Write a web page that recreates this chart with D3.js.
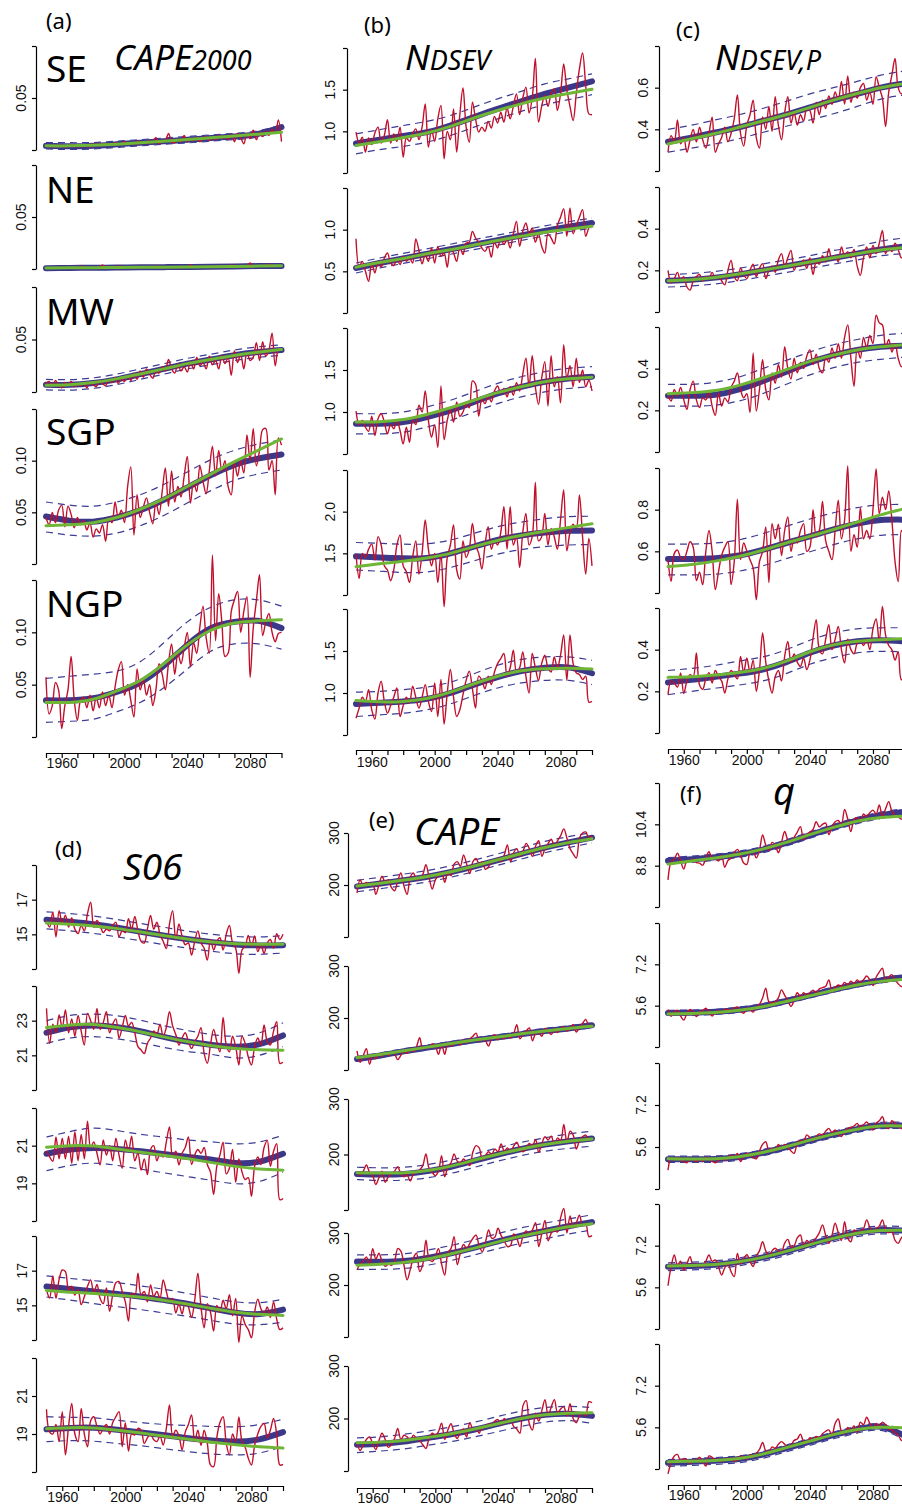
<!DOCTYPE html>
<html><head><meta charset="utf-8">
<script src="https://cdn.jsdelivr.net/npm/d3@7"></script>
<style>body{margin:0;background:#fff}svg{display:block}</style>
</head><body>
<svg id="chart" width="902" height="1505"></svg>
<script>
// ---------- categories ----------
const YEARS = d3.range(1950, 2101, 2);     // annual series sampled every 2 years
const KNOTS = d3.range(1950, 2101, 15);    // smooth fits / bands
const REGIONS = ["SE", "NE", "MW", "SGP", "NGP"];
const XTICKS = d3.range(1950, 2101, 10);
const XLABELS = [1960, 2000, 2040, 2080];

// ---------- (a) CAPE2000 ----------
const cape2000SE_red = [0.005,0.003,0.004,0.003,0.005,0.004,0.003,0.004,0.005,0.003,0.004,
0.003,0.005,0.004,0.003,0.005,0.006,0.004,0.006,0.005,0.006,
0.005,0.007,0.005,0.006,0.008,0.006,0.007,0.005,0.009,0.006,
0.008,0.006,0.009,0.007,0.012,0.006,0.009,0.009,0.016,0.008,
0.007,0.01,0.008,0.014,0.008,0.011,0.009,0.012,0.008,0.011,
0.013,0.009,0.012,0.01,0.014,0.011,0.013,0.01,0.015,0.008,
0.016,0.012,0.006,0.016,0.011,0.019,0.01,0.017,0.013,0.018,
0.014,0.02,0.016,0.029,0.008];
const cape2000SE_blue = [0.004,0.0035,0.004,0.0055,0.007,0.0085,0.0098,0.0115,0.013,0.0155,0.022];
const cape2000SE_green = [0.004,0.004,0.0045,0.0055,0.007,0.0085,0.010,0.0118,0.0135,0.0152,0.017];
const cape2000SE_up = [0.007,0.007,0.0072,0.0085,0.010,0.0115,0.013,0.0145,0.016,0.0185,0.024];
const cape2000SE_lo = [0.001,0.0005,0.001,0.0025,0.004,0.0055,0.0068,0.0085,0.010,0.0125,0.019];

const cape2000NE_red = [0.001,0.0008,0.0012,0.0009,0.0011,0.001,0.0013,0.0009,0.0012,0.001,0.0011,
0.0028,0.0012,0.001,0.0013,0.0011,0.0014,0.0012,0.0038,0.0013,0.0015,
0.0013,0.0014,0.003,0.0015,0.0013,0.0016,0.0014,0.0017,0.0015,0.0016,
0.0018,0.0016,0.0019,0.0017,0.003,0.0018,0.0017,0.002,0.0018,0.0021,
0.0019,0.002,0.0022,0.0019,0.0021,0.0038,0.002,0.0022,0.0021,0.0023,
0.0022,0.0024,0.0021,0.0025,0.0023,0.0022,0.0026,0.0024,0.0038,0.0025,
0.0026,0.0028,0.0025,0.003,0.0058,0.0027,0.003,0.0028,0.0031,0.0029,
0.0045,0.003,0.0032,0.0029,0.0031];
const cape2000NE_blue = [0.0008,0.001,0.0012,0.0014,0.0016,0.0018,0.002,0.0022,0.0025,0.0028,0.003];
const cape2000NE_green = [0.0009,0.0011,0.0012,0.0014,0.0016,0.0018,0.002,0.0022,0.0025,0.0028,0.0031];
const cape2000NE_up = [0.0016,0.0018,0.002,0.0022,0.0024,0.0026,0.0028,0.003,0.0033,0.0036,0.0038];
const cape2000NE_lo = [0,0.0002,0.0004,0.0006,0.0008,0.001,0.0012,0.0014,0.0017,0.002,0.0022];

const cape2000MW_red = [0.008,0.01,0.005,0.011,0.007,0.004,0.009,0.006,0.01,0.005,0.008,
0.006,0.009,0.004,0.01,0.007,0.005,0.011,0.008,0.006,0.012,
0.009,0.014,0.008,0.013,0.01,0.016,0.011,0.018,0.012,0.02,
0.014,0.022,0.017,0.013,0.021,0.018,0.024,0.02,0.031,0.022,
0.018,0.027,0.02,0.024,0.019,0.029,0.022,0.033,0.025,0.028,
0.022,0.034,0.026,0.03,0.022,0.035,0.027,0.033,0.016,0.039,
0.028,0.036,0.022,0.038,0.03,0.033,0.047,0.03,0.048,0.034,
0.04,0.056,0.025,0.04,0.04];
const cape2000MW_blue = [0.007,0.0068,0.0085,0.012,0.017,0.022,0.027,0.031,0.035,0.038,0.040];
const cape2000MW_green = [0.0065,0.007,0.009,0.0125,0.0172,0.022,0.027,0.031,0.0348,0.0378,0.0405];
const cape2000MW_up = [0.012,0.0118,0.0135,0.017,0.022,0.027,0.032,0.036,0.040,0.043,0.045];
const cape2000MW_lo = [0.002,0.0018,0.0035,0.007,0.012,0.017,0.022,0.026,0.030,0.033,0.035];

const cape2000SGP_red = [0.045,0.038,0.05,0.04,0.052,0.057,0.036,0.056,0.048,0.035,0.045,
0.038,0.042,0.033,0.04,0.026,0.034,0.03,0.038,0.022,0.045,
0.04,0.06,0.045,0.052,0.04,0.075,0.094,0.028,0.067,0.045,
0.055,0.064,0.05,0.039,0.06,0.048,0.07,0.093,0.056,0.09,
0.06,0.075,0.065,0.085,0.104,0.059,0.08,0.07,0.095,0.08,
0.068,0.09,0.114,0.085,0.11,0.09,0.1,0.075,0.067,0.099,
0.085,0.1,0.088,0.125,0.1,0.131,0.095,0.11,0.13,0.131,
0.091,0.1,0.067,0.122,0.115];
const cape2000SGP_blue = [0.046,0.042,0.041,0.045,0.052,0.062,0.074,0.086,0.096,0.102,0.106];
const cape2000SGP_green = [0.037,0.038,0.040,0.045,0.053,0.063,0.075,0.087,0.099,0.110,0.121];
const cape2000SGP_up = [0.060,0.057,0.056,0.060,0.067,0.077,0.089,0.101,0.110,0.116,0.120];
const cape2000SGP_lo = [0.031,0.028,0.027,0.030,0.037,0.047,0.059,0.071,0.081,0.087,0.091];

const cape2000NGP_red = [0.057,0.022,0.03,0.052,0.045,0.008,0.03,0.045,0.077,0.035,0.016,
0.035,0.038,0.028,0.04,0.025,0.038,0.028,0.043,0.03,0.04,
0.028,0.048,0.064,0.072,0.04,0.05,0.035,0.019,0.065,0.045,
0.055,0.04,0.05,0.03,0.045,0.07,0.06,0.045,0.07,0.089,
0.06,0.08,0.07,0.085,0.1,0.067,0.09,0.08,0.105,0.125,
0.095,0.08,0.174,0.092,0.137,0.11,0.077,0.08,0.12,0.131,
0.139,0.1,0.12,0.134,0.057,0.104,0.13,0.155,0.097,0.11,
0.118,0.1,0.091,0.099,0.1];
const cape2000NGP_blue = [0.035,0.035,0.037,0.043,0.052,0.068,0.088,0.104,0.110,0.111,0.104];
const cape2000NGP_green = [0.033,0.033,0.036,0.044,0.054,0.070,0.088,0.102,0.109,0.111,0.112];
const cape2000NGP_up = [0.056,0.058,0.060,0.063,0.072,0.090,0.110,0.124,0.131,0.131,0.125];
const cape2000NGP_lo = [0.014,0.015,0.017,0.024,0.033,0.047,0.065,0.082,0.089,0.089,0.084];

// ---------- (b) N_DSEV ----------
const ndsevSE_red = [0.99,0.86,0.93,0.75,0.92,0.84,0.98,1.05,0.86,0.95,1.14,
0.86,0.97,0.88,1.05,0.69,0.92,0.88,0.97,1.03,0.9,
1.05,1.33,0.81,1.02,0.88,1.15,1.31,0.67,1.0,0.9,
1.27,0.75,1.2,1.52,1.05,0.87,1.35,1.15,0.99,1.05,
1.0,1.12,1.04,1.18,1.1,1.23,1.11,1.28,1.15,1.3,
1.45,1.2,1.4,1.53,1.22,1.4,1.875,1.11,1.3,1.43,
1.3,1.45,1.51,1.25,1.45,1.81,1.5,1.3,1.13,1.45,
1.75,1.94,1.55,1.21,1.2];
const ndsevSE_blue = [0.855,0.90,0.945,0.99,1.07,1.17,1.27,1.36,1.45,1.525,1.60];
const ndsevSE_green = [0.83,0.875,0.925,0.98,1.06,1.16,1.25,1.33,1.40,1.455,1.505];
const ndsevSE_up = [0.97,1.02,1.07,1.12,1.19,1.29,1.39,1.48,1.57,1.63,1.69];
const ndsevSE_lo = [0.73,0.78,0.82,0.87,0.95,1.05,1.15,1.24,1.32,1.38,1.44];

const ndsevNE_red = [0.89,0.55,0.62,0.5,0.38,0.6,0.48,0.62,0.55,0.66,0.72,
0.6,0.57,0.65,0.58,0.68,0.62,0.66,0.6,0.89,0.75,
0.59,0.7,0.62,0.78,0.6,0.8,0.68,0.72,0.55,0.78,
0.72,0.62,0.8,0.7,0.84,0.85,0.98,0.9,0.85,0.78,
0.74,0.8,0.67,0.85,0.78,0.9,0.82,0.88,0.78,0.95,
1.1,0.8,0.98,1.08,0.95,1.02,0.85,0.95,0.8,0.72,
0.95,0.9,0.83,1.05,1.15,1.25,0.92,1.26,0.95,1.05,
1.15,1.24,0.92,1.02,1.06];
const ndsevNE_blue = [0.54,0.60,0.655,0.71,0.765,0.82,0.875,0.93,0.985,1.035,1.08];
const ndsevNE_green = [0.55,0.605,0.655,0.71,0.76,0.815,0.87,0.92,0.97,1.005,1.04];
const ndsevNE_up = [0.60,0.66,0.715,0.77,0.825,0.88,0.935,0.99,1.045,1.095,1.14];
const ndsevNE_lo = [0.48,0.54,0.595,0.65,0.705,0.76,0.815,0.87,0.925,0.975,1.02];

const ndsevMW_red = [1.01,0.85,0.9,0.82,0.77,0.95,0.72,0.92,0.98,0.88,0.74,
0.85,0.8,0.9,0.78,0.62,0.82,0.64,0.9,0.85,1.08,
1.0,1.25,0.9,0.7,0.85,0.58,1.31,0.67,0.9,1.03,
0.88,1.12,0.95,1.0,1.1,1.05,1.37,1.33,0.95,1.15,
1.1,1.2,1.12,1.25,1.31,1.22,1.28,1.18,1.3,1.2,
1.35,1.25,1.45,1.64,1.3,1.67,1.3,1.09,1.4,1.6,
1.07,1.67,1.3,1.42,1.11,1.8,1.4,1.55,1.3,1.64,
1.35,1.5,1.3,1.38,1.25];
const ndsevMW_blue = [0.86,0.86,0.88,0.94,1.02,1.12,1.22,1.30,1.36,1.40,1.42];
const ndsevMW_green = [0.88,0.885,0.91,0.97,1.05,1.14,1.23,1.30,1.36,1.395,1.415];
const ndsevMW_up = [0.98,0.98,1.0,1.06,1.14,1.24,1.34,1.42,1.48,1.52,1.54];
const ndsevMW_lo = [0.74,0.74,0.76,0.82,0.90,1.0,1.10,1.18,1.24,1.28,1.30];

const ndsevSGP_red = [1.49,1.2,1.5,1.45,1.55,1.61,1.42,1.7,1.6,1.35,1.3,
1.17,1.3,1.6,1.72,1.35,1.28,1.15,1.45,1.65,1.25,
1.5,1.9,1.55,1.35,1.5,1.15,1.5,0.86,1.45,1.6,
1.84,1.3,1.19,1.65,1.45,1.55,1.86,1.6,1.5,1.31,
1.6,1.82,1.55,1.65,1.6,1.75,2.06,1.55,2.06,1.6,
1.7,1.33,1.75,1.98,1.6,1.7,2.35,1.65,1.7,1.98,
1.6,1.8,1.7,1.55,1.9,2.26,1.53,1.75,1.85,1.8,
2.2,1.7,1.25,1.68,1.35];
const ndsevSGP_blue = [1.465,1.45,1.44,1.445,1.50,1.58,1.66,1.715,1.75,1.77,1.775];
const ndsevSGP_green = [1.34,1.375,1.405,1.445,1.50,1.58,1.655,1.715,1.765,1.81,1.855];
const ndsevSGP_up = [1.63,1.62,1.61,1.615,1.66,1.74,1.82,1.875,1.915,1.94,1.945];
const ndsevSGP_lo = [1.30,1.285,1.27,1.275,1.33,1.41,1.49,1.545,1.58,1.60,1.605];

const ndsevNGP_red = [0.70,0.82,0.95,0.9,1.04,0.8,0.69,1.0,1.14,0.9,0.76,
0.85,0.95,1.06,0.72,0.85,0.95,0.88,1.08,0.95,0.82,
0.95,1.1,0.9,0.78,1.12,0.72,1.16,0.63,1.0,1.28,
0.95,0.72,0.8,0.98,1.15,1.26,1.05,0.82,1.2,1.15,
1.05,1.2,1.1,1.25,1.35,1.41,1.47,1.2,1.3,1.51,
1.25,1.3,1.49,1.2,1.0,1.47,1.3,1.15,1.35,1.45,
1.3,1.25,1.43,1.3,1.45,1.69,1.15,1.69,1.35,1.24,
1.22,1.16,1.2,0.89,0.9];
const ndsevNGP_blue = [0.87,0.885,0.90,0.93,1.0,1.10,1.19,1.26,1.30,1.305,1.235];
const ndsevNGP_green = [0.91,0.895,0.90,0.935,1.01,1.11,1.20,1.265,1.29,1.295,1.285];
const ndsevNGP_up = [1.01,1.02,1.04,1.07,1.13,1.23,1.33,1.40,1.43,1.43,1.39];
const ndsevNGP_lo = [0.72,0.74,0.76,0.80,0.87,0.97,1.06,1.12,1.15,1.15,1.10];

// ---------- (c) N_DSEV,P ----------
const ndsevpSE_red = [0.29,0.37,0.34,0.445,0.33,0.36,0.29,0.35,0.4,0.34,0.41,
0.35,0.31,0.38,0.458,0.29,0.33,0.36,0.41,0.34,0.38,
0.45,0.565,0.38,0.32,0.42,0.47,0.54,0.36,0.31,0.46,
0.4,0.51,0.39,0.557,0.42,0.35,0.48,0.557,0.43,0.48,
0.42,0.47,0.44,0.5,0.49,0.43,0.53,0.47,0.54,0.5,
0.56,0.52,0.58,0.54,0.63,0.52,0.656,0.53,0.58,0.55,
0.6,0.62,0.54,0.58,0.52,0.653,0.6,0.55,0.413,0.58,
0.66,0.74,0.6,0.57,0.6];
const ndsevpSE_blue = [0.34,0.36,0.385,0.41,0.44,0.47,0.505,0.54,0.57,0.60,0.62];
const ndsevpSE_green = [0.33,0.355,0.38,0.41,0.44,0.47,0.505,0.54,0.572,0.60,0.62];
const ndsevpSE_up = [0.40,0.42,0.445,0.47,0.50,0.535,0.57,0.60,0.63,0.66,0.68];
const ndsevpSE_lo = [0.29,0.31,0.33,0.355,0.385,0.415,0.445,0.475,0.51,0.545,0.565];

const ndsevpNE_red = [0.2,0.14,0.16,0.19,0.15,0.17,0.12,0.105,0.15,0.17,0.18,
0.15,0.17,0.16,0.19,0.16,0.17,0.15,0.13,0.2,0.248,
0.17,0.15,0.21,0.18,0.16,0.2,0.23,0.17,0.21,0.232,
0.16,0.2,0.22,0.19,0.25,0.28,0.22,0.26,0.296,0.2,
0.23,0.22,0.25,0.21,0.26,0.18,0.24,0.23,0.27,0.24,
0.304,0.25,0.27,0.24,0.312,0.27,0.29,0.26,0.3,0.22,
0.176,0.26,0.312,0.26,0.32,0.28,0.33,0.392,0.28,0.31,
0.29,0.33,0.3,0.26,0.29];
const ndsevpNE_blue = [0.15,0.155,0.165,0.18,0.20,0.22,0.24,0.26,0.28,0.30,0.315];
const ndsevpNE_green = [0.15,0.155,0.166,0.182,0.20,0.22,0.24,0.26,0.28,0.298,0.31];
const ndsevpNE_up = [0.18,0.185,0.195,0.21,0.23,0.25,0.27,0.295,0.315,0.34,0.355];
const ndsevpNE_lo = [0.12,0.125,0.135,0.15,0.17,0.19,0.21,0.23,0.25,0.27,0.28];

const ndsevpMW_red = [0.27,0.245,0.3,0.27,0.31,0.25,0.205,0.3,0.34,0.25,0.213,
0.26,0.25,0.29,0.22,0.176,0.284,0.22,0.26,0.24,0.31,
0.34,0.38,0.3,0.26,0.28,0.19,0.476,0.197,0.3,0.443,
0.3,0.25,0.38,0.33,0.42,0.36,0.506,0.4,0.35,0.45,
0.38,0.43,0.4,0.46,0.49,0.42,0.47,0.4,0.38,0.46,
0.43,0.5,0.45,0.52,0.45,0.55,0.61,0.45,0.316,0.5,
0.45,0.55,0.5,0.56,0.52,0.657,0.62,0.61,0.5,0.54,
0.48,0.52,0.45,0.41,0.42];
const ndsevpMW_blue = [0.27,0.27,0.275,0.30,0.34,0.385,0.43,0.465,0.49,0.505,0.51];
const ndsevpMW_green = [0.28,0.285,0.295,0.32,0.355,0.395,0.435,0.465,0.49,0.505,0.515];
const ndsevpMW_up = [0.325,0.325,0.335,0.36,0.40,0.44,0.48,0.515,0.54,0.56,0.57];
const ndsevpMW_lo = [0.22,0.22,0.225,0.245,0.28,0.325,0.37,0.405,0.43,0.445,0.455];

const ndsevpSGP_red = [0.56,0.456,0.59,0.606,0.57,0.56,0.6,0.646,0.62,0.46,0.5,
0.44,0.6,0.7,0.6,0.416,0.5,0.58,0.62,0.646,0.44,
0.55,0.85,0.56,0.64,0.6,0.56,0.52,0.368,0.55,0.6,
0.717,0.45,0.733,0.66,0.73,0.58,0.7,0.765,0.6,0.66,
0.64,0.7,0.733,0.6,0.62,0.8,0.67,0.7,0.84,0.65,
0.6,0.56,0.7,0.845,0.66,0.75,1.01,0.6,0.68,0.62,
0.81,0.66,0.7,0.66,0.8,0.995,0.78,0.86,0.8,0.89,
0.75,0.55,0.455,0.7,0.65];
const ndsevpSGP_blue = [0.563,0.563,0.567,0.58,0.607,0.64,0.672,0.705,0.733,0.75,0.752];
const ndsevpSGP_green = [0.527,0.537,0.553,0.575,0.605,0.64,0.672,0.705,0.74,0.775,0.805];
const ndsevpSGP_up = [0.635,0.635,0.64,0.655,0.685,0.72,0.755,0.785,0.81,0.823,0.825];
const ndsevpSGP_lo = [0.487,0.487,0.49,0.505,0.53,0.565,0.598,0.632,0.66,0.677,0.68];

const ndsevpNGP_red = [0.184,0.25,0.24,0.22,0.288,0.19,0.25,0.28,0.27,0.384,0.23,
0.21,0.26,0.29,0.24,0.3,0.27,0.25,0.192,0.26,0.3,
0.28,0.26,0.368,0.29,0.36,0.29,0.35,0.2,0.3,0.48,
0.34,0.25,0.192,0.27,0.3,0.25,0.368,0.44,0.34,0.38,
0.34,0.32,0.36,0.304,0.35,0.456,0.544,0.4,0.38,0.45,
0.52,0.4,0.45,0.512,0.4,0.336,0.45,0.4,0.38,0.43,
0.44,0.42,0.45,0.4,0.5,0.547,0.44,0.608,0.47,0.42,
0.4,0.35,0.39,0.256,0.26];
const ndsevpNGP_blue = [0.243,0.255,0.27,0.285,0.305,0.34,0.385,0.42,0.44,0.445,0.44];
const ndsevpNGP_green = [0.267,0.27,0.278,0.29,0.31,0.345,0.39,0.423,0.44,0.448,0.453];
const ndsevpNGP_up = [0.30,0.31,0.325,0.345,0.365,0.40,0.445,0.48,0.50,0.505,0.505];
const ndsevpNGP_lo = [0.184,0.20,0.215,0.23,0.25,0.285,0.33,0.362,0.385,0.392,0.39];

// ---------- (d) S06 ----------
const s06SE_red = [15.8,15.42,16.28,14.85,16.37,15.6,16.1,15.42,15.95,15.3,15.04,
15.5,15.2,16.2,16.85,15.4,15.8,15.5,15.1,15.3,15.2,
15.5,15.7,14.85,15.2,15.1,15.9,15.3,16.03,15.2,14.6,
14.5,15.3,16.09,15.3,15.7,15.0,14.6,14.18,15.6,16.37,
14.7,15.6,14.9,14.4,14.5,13.8,14.6,15.2,14.5,14.2,
13.51,14.7,14.1,14.6,14.8,14.1,15.0,15.51,14.5,14.2,
12.75,14.1,14.3,14.94,14.3,14.9,14.0,14.4,13.9,14.5,
14.7,14.2,15.04,14.7,15.0];
const s06SE_blue = [15.84,15.72,15.58,15.38,15.15,14.92,14.72,14.55,14.42,14.36,14.37];
const s06SE_green = [15.65,15.58,15.48,15.33,15.13,14.92,14.72,14.56,14.46,14.43,14.43];
const s06SE_up = [16.3,16.2,16.05,15.85,15.62,15.4,15.18,15.0,14.88,14.85,14.92];
const s06SE_lo = [15.32,15.2,15.05,14.85,14.62,14.4,14.2,14.02,13.88,13.85,13.92];

const s06NE_red = [23.71,21.69,22.8,22.3,23.33,22.6,23.62,22.3,23.1,22.1,23.3,
22.4,21.6,23.42,23.0,22.5,23.71,22.5,22.9,23.52,22.3,
22.8,23.1,22.0,22.6,23.3,22.7,22.9,22.3,21.5,21.31,
21.1,21.7,22.0,22.4,22.2,22.8,22.1,22.6,23.52,22.7,
22.2,21.6,22.0,22.3,21.8,21.4,21.8,22.1,22.6,21.1,
20.54,21.6,22.5,21.8,21.2,23.19,21.6,21.2,22.1,21.5,
20.44,22.1,21.7,20.9,20.44,21.5,22.0,21.6,22.75,21.8,
21.6,22.4,22.94,20.54,20.6];
const s06NE_blue = [22.31,22.62,22.72,22.62,22.38,22.05,21.78,21.6,21.5,21.65,22.15];
const s06NE_green = [22.6,22.75,22.78,22.6,22.35,22.05,21.78,21.55,21.4,21.32,21.3];
const s06NE_up = [23.0,23.3,23.38,23.28,23.02,22.7,22.42,22.2,22.1,22.3,22.88];
const s06NE_lo = [21.69,22.0,22.08,21.95,21.72,21.45,21.22,21.05,20.85,21.0,21.5];

const s06MW_red = [20.72,20.4,20.17,21.46,20.3,21.4,20.3,21.5,20.07,21.74,20.2,
21.6,20.3,22.3,20.9,21.2,20.6,19.98,21.3,20.5,21.0,
20.2,21.4,20.5,19.8,21.3,20.7,21.5,20.2,20.6,19.7,
20.3,19.46,20.8,21.0,20.2,20.6,20.4,21.2,22.0,20.4,
20.7,19.98,20.6,20.9,21.46,20.0,20.5,20.8,20.6,20.9,
20.0,19.6,18.41,19.9,20.5,21.19,19.5,19.8,20.8,19.06,
20.3,19.6,19.2,19.3,18.31,19.9,20.4,20.0,20.9,21.28,
19.9,20.7,21.1,18.13,18.2];
const s06MW_blue = [20.57,20.8,20.88,20.83,20.7,20.55,20.4,20.25,20.08,20.15,20.57];
const s06MW_green = [20.92,21.0,20.98,20.82,20.65,20.48,20.3,20.1,19.9,19.76,19.7];
const s06MW_up = [21.46,21.75,21.93,21.8,21.6,21.45,21.3,21.2,21.1,21.2,21.55];
const s06MW_lo = [19.67,19.95,20.07,19.95,19.75,19.55,19.35,19.15,18.98,19.1,19.6];

const s06SGP_red = [15.9,15.42,16.7,15.4,16.5,17.04,16.94,15.9,16.1,15.6,15.9,
15.04,15.5,16.1,16.47,15.7,16.2,15.4,15.1,16.0,14.66,
15.6,16.3,16.37,15.8,15.2,14.09,15.7,15.5,16.85,15.6,
15.8,15.2,16.18,15.5,15.8,15.4,16.47,15.8,15.2,15.4,
14.56,15.1,14.5,15.2,14.9,14.3,15.3,16.85,14.9,13.7,
15.1,14.6,13.51,15.0,14.6,15.3,14.8,15.61,14.4,15.4,
12.85,14.4,13.9,13.6,13.13,14.6,15.36,14.8,14.5,14.9,
14.3,15.2,14.2,13.6,13.7];
const s06SGP_blue = [16.09,15.95,15.8,15.65,15.5,15.3,15.08,14.82,14.58,14.5,14.75];
const s06SGP_green = [15.86,15.76,15.68,15.58,15.46,15.28,15.06,14.82,14.6,14.48,14.42];
const s06SGP_up = [16.7,16.55,16.42,16.3,16.12,15.92,15.68,15.42,15.2,15.15,15.36];
const s06SGP_lo = [15.48,15.3,15.1,14.92,14.75,14.55,14.35,14.12,13.92,13.88,14.03];

const s06NGP_red = [20.3,19.1,19.0,19.5,18.6,20.18,17.9,19.4,20.61,19.0,18.6,
20.35,19.0,18.33,19.7,19.91,19.4,19.0,19.3,19.5,19.0,
19.6,19.91,20.18,18.33,19.6,18.1,19.0,18.95,19.3,19.2,
18.5,18.8,19.0,18.7,18.6,18.9,18.42,19.3,20.53,18.9,
19.2,18.9,18.16,19.1,19.5,20.0,18.6,19.2,18.4,19.2,
18.5,17.37,17.28,18.8,19.6,19.91,18.5,17.9,19.0,18.6,
19.9,18.6,18.3,17.72,17.37,18.4,19.0,19.4,19.56,18.8,
19.2,19.82,19.0,17.37,17.4];
const s06NGP_blue = [19.25,19.32,19.33,19.22,19.08,18.93,18.78,18.66,18.6,18.72,19.1];
const s06NGP_green = [19.28,19.33,19.32,19.2,19.05,18.88,18.72,18.57,18.44,18.33,18.26];
const s06NGP_up = [19.91,19.88,19.85,19.72,19.6,19.5,19.45,19.4,19.38,19.5,19.78];
const s06NGP_lo = [18.6,18.65,18.62,18.5,18.38,18.22,18.07,17.95,17.9,18.0,18.37];

// ---------- (e) CAPE ----------
const capeSE_red = [185,210,198,205,200,204,182,200,217,205,210,
195,189,208,223,198,182,215,223,210,212,
220,239,215,192,210,218,225,205,225,218,
240,245,236,258,240,222,245,251,240,245,
230,235,248,245,252,245,258,277,245,262,
270,255,265,280,270,255,275,285,255,270,
280,288,275,285,295,308,290,270,260,252,
290,300,302,290,295];
const capeSE_blue = [197,203,209,216,225,236,248,260,272,282,291];
const capeSE_green = [198,203.5,209.5,216.5,225.5,236.5,248.5,260.5,272,281.5,289];
const capeSE_up = [209,215,221,228,237,248,260,272,284,293,301];
const capeSE_lo = [187,193,199,206,215,226,238,250,262,272,281];

const capeNE_red = [137,115,128,141,111,128,122,132,126,133,128,
134,131,120,128,138,132,140,136,145,162,
140,145,142,150,146,130,150,130,152,146,
150,155,148,158,152,160,165,171,155,160,
156,146,162,168,158,165,160,167,162,170,
187,160,168,175,181,156,170,172,165,180,
175,168,178,172,180,183,175,180,187,173,
182,190,197,185,183];
const capeNE_blue = [121,128,136,143,150,157,163,169,175,180,186];
const capeNE_green = [124,130,137,144,151,157.5,163.5,169.5,175,180,184];
const capeNE_up = [126,133,141,148,155,162,168,174,180,185,191];
const capeNE_lo = [117,124,132,139,146,153,159,165,171,176,181];

const capeMW_red = [168,163,170,181,168,162,146,158,170,150,160,
165,170,178,165,160,163,152,165,168,172,
180,201,175,168,162,170,198,160,178,185,
201,188,185,192,186,180,205,216,212,190,
198,205,200,210,205,219,206,212,205,215,
222,210,205,212,220,215,227,204,220,232,
226,233,218,230,225,254,222,242,235,210,
225,232,235,227,228];
const capeMW_blue = [165,164,165,170,178,189,200,210,218,224,229];
const capeMW_green = [167,166.5,167,171,179,190,200.5,210,218,224,228];
const capeMW_up = [177,176,177,182,190,201,212,222,230,237,242];
const capeMW_lo = [155,153,154,158,166,177,188,198,206,211,215];

const capeSGP_red = [229,240,246,254,238,270,250,261,245,236,240,
238,246,270,265,238,210,230,252,261,226,
240,286,250,245,255,270,240,219,262,270,
293,239,262,278,270,280,290,296,275,264,
282,306,290,292,309,295,285,274,276,298,
290,274,295,304,298,306,320,274,300,324,
285,300,305,302,330,347,300,333,310,320,
334,315,318,293,295];
const capeSGP_blue = [245,244.5,246,252,261,272,284,295,304,313,321];
const capeSGP_green = [238,240,243.5,250,260,271,283,294,303.5,312,318];
const capeSGP_up = [258,258,260,267,276,287,299,310,319,327,335];
const capeSGP_lo = [230,230,232,238,247,258,270,280,289,298,306];

const capeNGP_red = [156,139,150,160,165,152,141,158,172,160,145,
150,162,181,160,168,165,158,168,162,158,
150,143,162,172,168,175,191,160,178,190,
172,162,175,180,165,192,180,182,172,185,
182,190,185,195,198,188,200,192,198,185,
180,172,225,234,190,178,210,195,215,236,
205,222,236,210,218,222,205,228,200,192,
205,210,205,232,230];
const capeNGP_blue = [150,152,156,163,170,179,190,200,207,209,205];
const capeNGP_green = [154,155,158,164,171,180,190,200,207,210,211];
const capeNGP_up = [163,165,170,176,184,193,204,214,221,223,221];
const capeNGP_lo = [135,138,142,149,156,165,175,185,193,196,191];

// ---------- (f) q ----------
const qSE_red = [8.25,8.95,9.05,9.28,8.98,8.67,9.0,8.98,9.05,8.92,8.9,
8.82,9.1,9.34,9.05,9.1,8.98,9.2,8.74,9.0,9.1,
9.3,9.43,9.2,8.9,8.85,9.3,9.35,9.1,9.4,9.99,
9.6,9.4,9.7,9.6,9.3,9.7,10.12,9.8,9.7,9.9,
10.1,10.31,9.8,10.0,10.1,10.2,10.5,10.3,10.4,10.45,
10.0,10.3,10.5,10.55,10.4,10.98,10.6,10.12,10.6,10.65,
10.5,10.8,10.7,10.85,10.95,10.8,11.15,10.7,11.0,11.28,
10.9,10.75,10.7,10.6,10.7];
const qSE_blue = [8.99,9.05,9.13,9.24,9.42,9.68,9.98,10.28,10.55,10.75,10.89];
const qSE_green = [8.86,8.98,9.1,9.24,9.44,9.7,10.0,10.28,10.52,10.66,10.72];
const qSE_up = [9.11,9.17,9.25,9.36,9.54,9.8,10.1,10.4,10.67,10.87,11.01];
const qSE_lo = [8.87,8.93,9.01,9.12,9.3,9.56,9.86,10.16,10.43,10.63,10.77];

const qNE_red = [5.45,5.19,5.35,5.42,5.2,5.04,5.3,5.45,5.35,5.18,5.35,
5.4,5.5,5.35,5.2,5.35,5.4,5.3,5.45,5.45,5.4,
5.5,5.55,5.4,5.3,5.5,5.45,5.35,5.55,5.65,5.9,
6.28,5.75,5.7,5.75,5.9,6.21,6.0,5.8,5.57,5.8,
6.1,5.95,6.1,6.0,6.1,6.2,6.1,6.25,6.3,6.35,
6.6,6.2,6.3,6.4,6.35,6.5,6.4,6.55,6.45,6.6,
6.5,6.6,6.75,6.6,6.38,6.7,6.9,7.05,6.5,6.7,
6.8,6.6,6.45,6.34,6.4];
const qNE_blue = [5.32,5.33,5.36,5.44,5.58,5.78,6.0,6.22,6.42,6.58,6.70];
const qNE_green = [5.28,5.3,5.34,5.42,5.56,5.76,5.98,6.2,6.4,6.54,6.62];
const qNE_up = [5.42,5.43,5.46,5.54,5.68,5.88,6.1,6.32,6.52,6.68,6.8];
const qNE_lo = [5.22,5.23,5.26,5.34,5.48,5.68,5.9,6.12,6.32,6.48,6.6];

const qMW_red = [4.72,5.2,5.1,5.2,5.1,5.05,5.0,5.15,5.1,5.05,5.15,
5.05,5.2,5.15,5.05,5.0,5.1,5.2,5.1,5.15,5.3,
5.2,5.35,5.05,5.25,5.35,5.3,5.2,5.15,5.45,5.7,
5.8,5.45,5.55,5.45,5.7,5.55,5.7,5.6,5.45,5.36,
5.75,5.85,5.8,6.06,5.95,5.85,6.0,6.1,6.05,6.2,
6.31,6.15,6.25,6.1,6.0,6.2,6.3,6.35,6.4,6.5,
6.35,6.45,6.55,6.4,6.25,6.5,6.6,6.75,6.4,6.3,
6.6,6.5,6.4,6.3,6.35];
const qMW_blue = [5.13,5.13,5.14,5.22,5.38,5.6,5.85,6.08,6.28,6.42,6.42];
const qMW_green = [5.15,5.14,5.15,5.23,5.39,5.61,5.86,6.09,6.28,6.4,6.4];
const qMW_up = [5.25,5.25,5.26,5.34,5.5,5.72,5.97,6.2,6.4,6.54,6.54];
const qMW_lo = [5.01,5.01,5.02,5.1,5.26,5.48,5.73,5.96,6.16,6.3,6.3];

const qSGP_red = [5.66,6.4,6.84,6.45,6.6,6.25,6.5,6.78,6.4,6.5,6.45,
6.4,6.6,6.84,6.6,6.65,6.4,6.07,6.35,6.5,6.2,
6.01,6.9,6.5,6.7,6.85,6.6,6.4,6.8,7.0,7.35,
7.0,6.8,7.0,7.1,7.0,6.95,7.3,7.44,7.15,7.2,
7.5,7.61,7.1,7.4,7.3,7.35,7.5,7.7,8.0,7.6,
7.29,7.6,8.06,7.7,7.4,8.12,7.5,7.35,7.8,7.7,
7.75,7.85,8.19,7.9,7.7,7.85,7.95,8.19,7.8,7.7,
7.75,7.4,7.29,7.5,7.6];
const qSGP_blue = [6.39,6.42,6.47,6.58,6.75,6.98,7.25,7.5,7.7,7.8,7.78];
const qSGP_green = [6.42,6.44,6.48,6.58,6.75,6.98,7.24,7.48,7.68,7.78,7.79];
const qSGP_up = [6.54,6.57,6.62,6.73,6.9,7.13,7.4,7.65,7.85,7.95,7.93];
const qSGP_lo = [6.24,6.27,6.32,6.43,6.6,6.83,7.1,7.35,7.55,7.65,7.63];

const qNGP_red = [3.81,4.25,4.5,4.56,4.3,4.4,4.35,4.22,4.35,4.32,4.45,
4.3,4.11,4.5,4.45,4.35,4.38,4.3,4.4,4.35,4.42,
4.3,4.35,4.5,4.45,4.38,4.55,4.45,4.6,4.75,5.02,
4.7,4.65,4.85,4.8,4.95,5.05,4.95,4.85,4.9,5.1,
5.15,5.34,5.05,5.0,5.2,5.12,5.25,5.2,5.35,5.45,
5.5,5.3,5.75,5.92,5.45,5.35,5.6,5.5,5.65,5.4,
5.8,5.7,5.99,5.75,5.55,5.75,5.65,5.8,5.7,5.55,
5.5,5.4,5.3,5.1,5.1];
const qNGP_blue = [4.24,4.28,4.32,4.38,4.55,4.8,5.05,5.3,5.52,5.62,5.28];
const qNGP_green = [4.28,4.3,4.33,4.4,4.57,4.82,5.07,5.32,5.52,5.6,5.58];
const qNGP_up = [4.36,4.4,4.44,4.5,4.67,4.92,5.17,5.42,5.64,5.74,5.45];
const qNGP_lo = [4.1,4.14,4.18,4.24,4.41,4.66,4.91,5.16,5.38,5.48,5.12];

// ---------- layout (pixel geometry, not data) ----------
const S = (red, blue, green, up, lo) => ({red, blue, green, up, lo});
const COLS = [
  {letter:"(a)", lx:46, ly:29, axisX:36, x0:46, x1:281.5, xAxisY:753, xLabBase:768, tickLabX:21, fmt:d3.format(".2f"),
   panels:[
    {py0:150, py1:46,  d0:0, d1:0.10, ticks:[0,0.05,0.10], labels:[0.05], s:S(cape2000SE_red,cape2000SE_blue,cape2000SE_green,cape2000SE_up,cape2000SE_lo)},
    {py0:269, py1:165, d0:0, d1:0.10, ticks:[0,0.05,0.10], labels:[0.05], s:S(cape2000NE_red,cape2000NE_blue,cape2000NE_green,cape2000NE_up,cape2000NE_lo)},
    {py0:392, py1:287, d0:0, d1:0.10, ticks:[0,0.05,0.10], labels:[0.05], s:S(cape2000MW_red,cape2000MW_blue,cape2000MW_green,cape2000MW_up,cape2000MW_lo)},
    {py0:564, py1:409, d0:0, d1:0.15, ticks:[0,0.05,0.10,0.15], labels:[0.05,0.10], s:S(cape2000SGP_red,cape2000SGP_blue,cape2000SGP_green,cape2000SGP_up,cape2000SGP_lo)},
    {py0:737, py1:580, d0:0, d1:0.15, ticks:[0,0.05,0.10,0.15], labels:[0.05,0.10], s:S(cape2000NGP_red,cape2000NGP_blue,cape2000NGP_green,cape2000NGP_up,cape2000NGP_lo)}
   ]},
  {letter:"(b)", lx:364, ly:33, axisX:347, x0:356, x1:592, xAxisY:750, xLabBase:767, tickLabX:330, fmt:d3.format(".1f"),
   panels:[
    {py0:173, py1:48,  d0:0.5, d1:2.0, ticks:[0.5,1,1.5,2], labels:[1,1.5], s:S(ndsevSE_red,ndsevSE_blue,ndsevSE_green,ndsevSE_up,ndsevSE_lo)},
    {py0:313, py1:188, d0:0, d1:1.5, ticks:[0,0.5,1,1.5], labels:[0.5,1], s:S(ndsevNE_red,ndsevNE_blue,ndsevNE_green,ndsevNE_up,ndsevNE_lo)},
    {py0:454, py1:328, d0:0.5, d1:2.0, ticks:[0.5,1,1.5,2], labels:[1,1.5], s:S(ndsevMW_red,ndsevMW_blue,ndsevMW_green,ndsevMW_up,ndsevMW_lo)},
    {py0:595, py1:470, d0:1.0, d1:2.5, ticks:[1,1.5,2,2.5], labels:[1.5,2], s:S(ndsevSGP_red,ndsevSGP_blue,ndsevSGP_green,ndsevSGP_up,ndsevSGP_lo)},
    {py0:735, py1:609, d0:0.5, d1:2.0, ticks:[0.5,1,1.5,2], labels:[1,1.5], s:S(ndsevNGP_red,ndsevNGP_blue,ndsevNGP_green,ndsevNGP_up,ndsevNGP_lo)}
   ]},
  {letter:"(c)", lx:676, ly:38, axisX:659, x0:668, x1:904.5, xAxisY:749, xLabBase:765, tickLabX:643, fmt:d3.format(".1f"),
   panels:[
    {py0:171, py1:46,  d0:0.2, d1:0.8, ticks:[0.2,0.4,0.6,0.8], labels:[0.4,0.6], s:S(ndsevpSE_red,ndsevpSE_blue,ndsevpSE_green,ndsevpSE_up,ndsevpSE_lo)},
    {py0:312, py1:187, d0:0, d1:0.6, ticks:[0,0.2,0.4,0.6], labels:[0.2,0.4], s:S(ndsevpNE_red,ndsevpNE_blue,ndsevpNE_green,ndsevpNE_up,ndsevpNE_lo)},
    {py0:452, py1:327, d0:0, d1:0.6, ticks:[0,0.2,0.4,0.6], labels:[0.2,0.4], s:S(ndsevpMW_red,ndsevpMW_blue,ndsevpMW_green,ndsevpMW_up,ndsevpMW_lo)},
    {py0:593, py1:468, d0:0.4, d1:1.0, ticks:[0.4,0.6,0.8,1.0], labels:[0.6,0.8], s:S(ndsevpSGP_red,ndsevpSGP_blue,ndsevpSGP_green,ndsevpSGP_up,ndsevpSGP_lo)},
    {py0:733, py1:608, d0:0, d1:0.6, ticks:[0,0.2,0.4,0.6], labels:[0.2,0.4], s:S(ndsevpNGP_red,ndsevpNGP_blue,ndsevpNGP_green,ndsevpNGP_up,ndsevpNGP_lo)}
   ]},
  {letter:"(d)", lx:55, ly:857, axisX:36, x0:46.5, x1:283, xAxisY:1486, xLabBase:1502, tickLabX:22, fmt:d3.format("d"),
   panels:[
    {py0:969,  py1:865,  d0:13, d1:19, ticks:[13,15,17,19], labels:[15,17], s:S(s06SE_red,s06SE_blue,s06SE_green,s06SE_up,s06SE_lo)},
    {py0:1090, py1:986,  d0:19, d1:25, ticks:[19,21,23,25], labels:[21,23], s:S(s06NE_red,s06NE_blue,s06NE_green,s06NE_up,s06NE_lo)},
    {py0:1221, py1:1108, d0:17, d1:23, ticks:[17,19,21,23], labels:[19,21], s:S(s06MW_red,s06MW_blue,s06MW_green,s06MW_up,s06MW_lo)},
    {py0:1340, py1:1236, d0:13, d1:19, ticks:[13,15,17,19], labels:[15,17], s:S(s06SGP_red,s06SGP_blue,s06SGP_green,s06SGP_up,s06SGP_lo)},
    {py0:1472, py1:1358, d0:17, d1:23, ticks:[17,19,21,23], labels:[19,21], s:S(s06NGP_red,s06NGP_blue,s06NGP_green,s06NGP_up,s06NGP_lo)}
   ]},
  {letter:"(e)", lx:369, ly:828, axisX:348, x0:357, x1:592, xAxisY:1488, xLabBase:1503, tickLabX:334, fmt:d3.format("d"),
   panels:[
    {py0:937,  py1:833,  d0:100, d1:300, ticks:[100,200,300], labels:[200,300], s:S(capeSE_red,capeSE_blue,capeSE_green,capeSE_up,capeSE_lo)},
    {py0:1070, py1:966,  d0:100, d1:300, ticks:[100,200,300], labels:[200,300], s:S(capeNE_red,capeNE_blue,capeNE_green,capeNE_up,capeNE_lo)},
    {py0:1210, py1:1099, d0:100, d1:300, ticks:[100,200,300], labels:[200,300], s:S(capeMW_red,capeMW_blue,capeMW_green,capeMW_up,capeMW_lo)},
    {py0:1337, py1:1233, d0:100, d1:300, ticks:[100,200,300], labels:[200,300], s:S(capeSGP_red,capeSGP_blue,capeSGP_green,capeSGP_up,capeSGP_lo)},
    {py0:1471, py1:1366, d0:100, d1:300, ticks:[100,200,300], labels:[200,300], s:S(capeNGP_red,capeNGP_blue,capeNGP_green,capeNGP_up,capeNGP_lo)}
   ]},
  {letter:"(f)", lx:680, ly:802, axisX:659, x0:668, x1:904.5, xAxisY:1485, xLabBase:1500, tickLabX:641, fmt:d3.format(".1f"),
   panels:[
    {py0:907,  py1:783,  d0:7.2, d1:12.0, ticks:[7.2,8.8,10.4,12.0], labels:[8.8,10.4], s:S(qSE_red,qSE_blue,qSE_green,qSE_up,qSE_lo)},
    {py0:1047, py1:923,  d0:4.0, d1:8.8, ticks:[4.0,5.6,7.2,8.8], labels:[5.6,7.2], s:S(qNE_red,qNE_blue,qNE_green,qNE_up,qNE_lo)},
    {py0:1189, py1:1063, d0:4.0, d1:8.8, ticks:[4.0,5.6,7.2,8.8], labels:[5.6,7.2], s:S(qMW_red,qMW_blue,qMW_green,qMW_up,qMW_lo)},
    {py0:1329, py1:1204, d0:4.0, d1:8.8, ticks:[4.0,5.6,7.2,8.8], labels:[5.6,7.2], s:S(qSGP_red,qSGP_blue,qSGP_green,qSGP_up,qSGP_lo)},
    {py0:1469, py1:1344, d0:4.0, d1:8.8, ticks:[4.0,5.6,7.2,8.8], labels:[5.6,7.2], s:S(qNGP_red,qNGP_blue,qNGP_green,qNGP_up,qNGP_lo)}
   ]}
];
const REGION_LABEL_Y = [82, 203, 325, 445, 617];

// ---------- styles ----------
const C_RED = "#c0102c", C_BLUE = "#3b3789", C_GREEN = "#6fb536", C_DASH = "#3c3c96";
const TICK_FONT = "'Liberation Sans', Arial, Helvetica, sans-serif";
const TITLE_FONT = "'Noto Sans', 'Open Sans', sans-serif";

const svg = d3.select("#chart");
svg.append("rect").attr("width", 902).attr("height", 1505).attr("fill", "#fff");

COLS.forEach(col => {
  const x = d3.scaleLinear().domain([1950, 2100]).range([col.x0, col.x1]);
  col.panels.forEach(p => {
    ["red","blue","green","up","lo"].forEach(k => {
      const n = k === "red" ? YEARS.length : KNOTS.length;
      if (p.s[k].length !== n) throw new Error(col.letter + " series " + k + " has " + p.s[k].length + " values, expected " + n);
    });
    const y = d3.scaleLinear().domain([p.d0, p.d1]).range([p.py0, p.py1]);
    const g = svg.append("g");

    // y axis
    const ay = g.append("g").attr("transform", `translate(${col.axisX},0)`)
      .call(d3.axisLeft(y).tickValues(p.ticks).tickSize(4).tickSizeOuter(0).tickFormat(""));
    ay.selectAll("path,line").attr("stroke", "#000").attr("stroke-width", 1.2);
    p.labels.forEach(v => {
      g.append("text")
        .attr("transform", `translate(${col.tickLabX},${y(v)}) rotate(-90)`)
        .attr("text-anchor", "middle").attr("dy", "0.35em")
        .attr("font-family", TICK_FONT).attr("font-size", 14).attr("fill", "#111")
        .text(col.fmt(v));
    });

    const smooth = d3.line().x((d, i) => x(KNOTS[i])).y(d => y(d)).curve(d3.curveNatural);
    const rough = d3.line().x((d, i) => x(YEARS[i])).y(d => y(d)).curve(d3.curveCatmullRom.alpha(0.5));

    g.append("path").attr("d", smooth(p.s.blue)).attr("fill", "none")
      .attr("stroke", C_BLUE).attr("stroke-width", 6).attr("stroke-linecap", "round");
    ["up", "lo"].forEach(k => {
      g.append("path").attr("d", smooth(p.s[k])).attr("fill", "none")
        .attr("stroke", C_DASH).attr("stroke-width", 1.2).attr("stroke-dasharray", "7,5");
    });
    g.append("path").attr("d", rough(p.s.red)).attr("fill", "none")
      .attr("stroke", C_RED).attr("stroke-width", 1.4).attr("stroke-linejoin", "round");
    g.append("path").attr("d", smooth(p.s.green)).attr("fill", "none")
      .attr("stroke", C_GREEN).attr("stroke-width", 3).attr("stroke-linecap", "round");
  });

  // x axis
  const ax = svg.append("g").attr("transform", `translate(0,${col.xAxisY})`)
    .call(d3.axisBottom(x).tickValues(XTICKS).tickSize(5).tickSizeOuter(0)
      .tickFormat(d => XLABELS.includes(d) ? String(d) : ""));
  ax.selectAll("path,line").attr("stroke", "#000").attr("stroke-width", 1.2);
  ax.selectAll("text").attr("y", col.xLabBase - col.xAxisY).attr("dy", 0)
    .attr("font-family", TICK_FONT).attr("font-size", 14).attr("fill", "#111");

  // panel letter
  svg.append("text").attr("x", col.lx).attr("y", col.ly)
    .attr("font-family", TITLE_FONT).attr("font-size", 22).attr("fill", "#000").text(col.letter);
});

// region labels (column a)
REGIONS.forEach((r, i) => {
  svg.append("text").attr("x", 46).attr("y", REGION_LABEL_Y[i])
    .attr("font-family", TITLE_FONT).attr("font-size", 37).attr("fill", "#000").text(r);
});

// variable titles
function title(x, y, main, mainSize, sub, subSize) {
  const t = svg.append("text").attr("x", x).attr("y", y)
    .attr("font-family", TITLE_FONT).attr("font-style", "italic").attr("fill", "#000");
  t.append("tspan").attr("font-size", mainSize).text(main);
  if (sub) t.append("tspan").attr("font-size", subSize).text(sub);
}
title(114, 70, "CAPE", 35, "2000", 27);
title(405, 70, "N", 35, "DSEV", 27);
title(715, 70, "N", 35, "DSEV,P", 27);
title(123, 880, "S06", 37);
title(414, 845, "CAPE", 38);
title(773, 805, "q", 38);
</script>
</body></html>
